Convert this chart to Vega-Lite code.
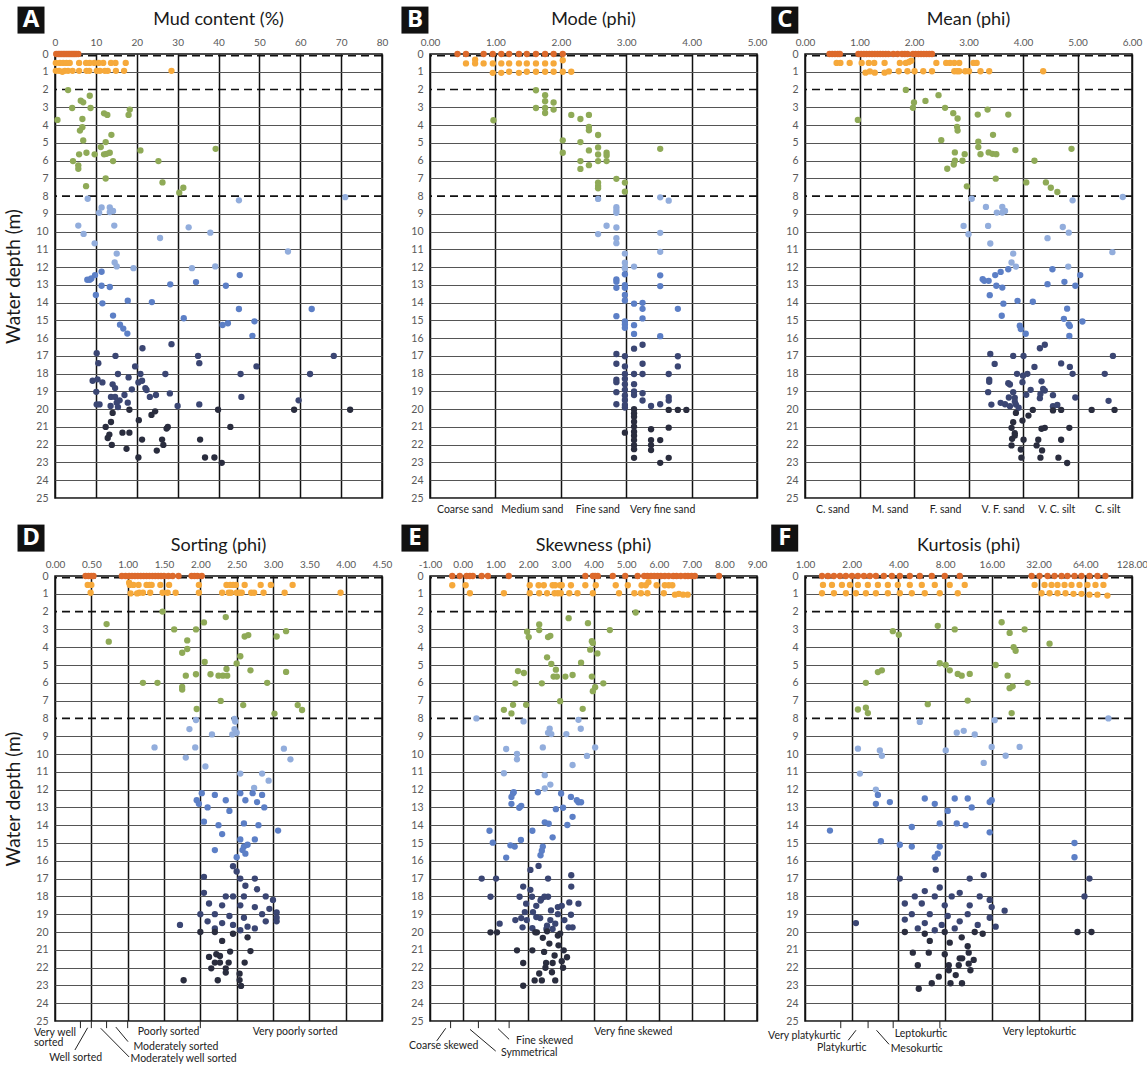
{
 "$schema": "https://vega.github.io/schema/vega-lite/v6.json",
 "background": "white",
 "padding": {"left": 4, "top": 5, "right": 2, "bottom": 2},
 "bounds": "flush",
 "columns": 3,
 "spacing": {"row": 78, "column": 48},
 "config": {
  "font": "Lato",
  "view": {"stroke": "#111", "strokeWidth": 1.5},
  "axis": {"labelFont": "Lato", "labelFontSize": 10.5, "labelColor": "#595959", "ticks": false, "domain": false, "gridOpacity": 1, "labelOverlap": false, "labelFlush": false, "tickCount": 40},
  "axisY": {"format": "d"},
  "axisX": {"labelFontSize": 10},
  "text": {"font": "Lato"}
 },
 "datasets": {
  "A": [
   {"v":0.3,"d":0},{"v":0.8,"d":0},{"v":1.2,"d":0},{"v":1.6,"d":0},{"v":2.0,"d":0},{"v":2.4,"d":0},{"v":2.8,"d":0},{"v":3.2,"d":0},{"v":3.6,"d":0},{"v":4.0,"d":0},{"v":4.4,"d":0},{"v":4.8,"d":0},{"v":5.2,"d":0},{"v":5.7,"d":0},
   {"v":0.2,"d":0.5},{"v":1.2,"d":0.5},{"v":2.0,"d":0.5},{"v":2.8,"d":0.5},{"v":3.6,"d":0.5},{"v":5.9,"d":0.5},{"v":7.6,"d":0.5},{"v":8.5,"d":0.5},{"v":9.6,"d":0.5},{"v":10.7,"d":0.5},{"v":11.8,"d":0.5},{"v":13.7,"d":0.5},{"v":14.8,"d":0.5},{"v":17.3,"d":0.5},
   {"v":0.2,"d":0.95},{"v":1.0,"d":0.95},{"v":1.8,"d":1.0},{"v":2.4,"d":0.95},{"v":3.2,"d":0.95},{"v":4.3,"d":0.95},{"v":5.9,"d":0.95},{"v":7.7,"d":0.95},{"v":8.4,"d":0.95},{"v":10.2,"d":0.95},{"v":11.0,"d":0.95},{"v":12.2,"d":0.95},{"v":12.9,"d":0.95},{"v":14.9,"d":0.95},{"v":16.9,"d":0.95},{"v":28.5,"d":0.95},
   {"v":3.2,"d":2.03},{"v":8.5,"d":2.35},{"v":6.3,"d":2.63},{"v":6.9,"d":2.72},{"v":4.2,"d":3.04},{"v":8.7,"d":3.04},{"v":18.3,"d":3.13},{"v":12.0,"d":3.34},{"v":12.8,"d":3.43},{"v":18.0,"d":3.43},{"v":0.6,"d":3.71},{"v":6.7,"d":3.66},{"v":6.7,"d":4.12},{"v":6.1,"d":4.31},{"v":13.8,"d":4.55},{"v":6.9,"d":4.87},{"v":12.4,"d":4.96},{"v":39.3,"d":5.34},{"v":11.2,"d":5.24},{"v":20.9,"d":5.43},{"v":5.9,"d":5.65},{"v":7.7,"d":5.56},{"v":9.7,"d":5.65},{"v":12.0,"d":5.65},{"v":12.6,"d":5.62},{"v":13.4,"d":5.56},{"v":4.4,"d":6.03},{"v":14.2,"d":6.03},{"v":25.3,"d":6.03},{"v":5.7,"d":6.27},{"v":5.7,"d":6.46},{"v":12.4,"d":7.01},{"v":26.3,"d":7.23},{"v":7.6,"d":7.44},{"v":30.4,"d":7.81},{"v":31.4,"d":7.53},
   {"v":8.0,"d":8.15},{"v":45.0,"d":8.24},{"v":71.0,"d":8.06},{"v":11.4,"d":8.64},{"v":10.8,"d":8.94},{"v":13.4,"d":8.64},{"v":13.4,"d":8.9},{"v":14.2,"d":8.84},{"v":5.7,"d":9.66},{"v":14.5,"d":9.66},{"v":7.0,"d":10.13},{"v":32.7,"d":9.76},{"v":38.0,"d":10.06},{"v":25.7,"d":10.36},{"v":9.7,"d":10.66},{"v":57.0,"d":11.12},{"v":15.1,"d":11.24},{"v":14.6,"d":11.74},{"v":15.1,"d":11.96},{"v":39.2,"d":11.96},{"v":19.2,"d":12.06},{"v":33.5,"d":12.06},
   {"v":11.4,"d":12.26},{"v":9.8,"d":12.45},{"v":45.2,"d":12.45},{"v":7.9,"d":12.71},{"v":8.5,"d":12.71},{"v":8.9,"d":12.64},{"v":34.5,"d":12.84},{"v":28.2,"d":12.97},{"v":11.4,"d":13.05},{"v":13.4,"d":13.12},{"v":41.8,"d":13.05},{"v":10.0,"d":13.57},{"v":11.6,"d":14.04},{"v":17.8,"d":13.89},{"v":23.7,"d":13.97},{"v":45.0,"d":14.36},{"v":62.8,"d":14.36},{"v":14.2,"d":14.73},{"v":31.5,"d":14.88},{"v":48.8,"d":15.05},{"v":41.0,"d":15.26},{"v":42.3,"d":15.16},{"v":15.9,"d":15.24},{"v":16.7,"d":15.46},{"v":17.7,"d":15.74},{"v":48.3,"d":15.87},
   {"v":28.5,"d":16.34},{"v":21.4,"d":16.57},{"v":10.2,"d":16.85},{"v":14.8,"d":17.0},{"v":35.0,"d":17.0},{"v":68.2,"d":17.0},{"v":10.6,"d":17.41},{"v":35.3,"d":17.41},{"v":19.6,"d":17.59},{"v":49.3,"d":17.59},{"v":15.4,"d":18.02},{"v":20.9,"d":18.02},{"v":27.0,"d":18.02},{"v":45.4,"d":18.02},{"v":62.4,"d":18.02},{"v":18.0,"d":18.21},{"v":9.2,"d":18.4},{"v":10.4,"d":18.32},{"v":11.6,"d":18.49},{"v":20.4,"d":18.49},{"v":21.3,"d":18.4},{"v":14.1,"d":18.6},{"v":14.7,"d":18.81},{"v":22.1,"d":18.81},{"v":22.4,"d":18.92},{"v":18.8,"d":18.88},{"v":10.1,"d":19.02},{"v":28.1,"d":19.11},{"v":17.0,"d":19.2},{"v":24.7,"d":19.2},{"v":13.7,"d":19.31},{"v":14.7,"d":19.31},{"v":23.2,"d":19.31},{"v":45.6,"d":19.31},{"v":15.8,"d":19.5},{"v":15.1,"d":19.63},{"v":17.8,"d":19.63},{"v":59.6,"d":19.5},{"v":10.2,"d":19.73},{"v":10.9,"d":19.73},{"v":13.6,"d":19.82},{"v":15.4,"d":19.88},{"v":30.0,"d":19.82},{"v":35.3,"d":19.73},
   {"v":18.2,"d":20.03},{"v":39.9,"d":20.03},{"v":58.5,"d":20.03},{"v":72.2,"d":20.03},{"v":14.1,"d":20.21},{"v":24.5,"d":20.12},{"v":23.6,"d":20.32},{"v":13.7,"d":20.72},{"v":20.5,"d":20.62},{"v":12.4,"d":21.0},{"v":27.3,"d":21.09},{"v":27.6,"d":21.0},{"v":42.9,"d":21.0},{"v":13.3,"d":21.43},{"v":12.9,"d":21.62},{"v":16.5,"d":21.32},{"v":18.2,"d":21.32},{"v":21.3,"d":21.71},{"v":26.2,"d":21.71},{"v":35.5,"d":21.71},{"v":13.9,"d":22.01},{"v":26.5,"d":22.01},{"v":17.5,"d":22.23},{"v":24.9,"d":22.33},{"v":20.4,"d":22.72},{"v":36.7,"d":22.72},{"v":39.0,"d":22.72},{"v":40.8,"d":23.02}
  ],
  "B": [
   {"v":0.42,"d":0},{"v":0.55,"d":0},{"v":0.82,"d":0},{"v":0.96,"d":0},{"v":1.09,"d":0},{"v":1.21,"d":0},{"v":1.36,"d":0},{"v":1.48,"d":0},{"v":1.62,"d":0},{"v":1.76,"d":0},{"v":1.89,"d":0},{"v":2.03,"d":0},{"v":0.69,"d":0.32},
   {"v":0.55,"d":0.53},{"v":0.69,"d":0.53},{"v":0.82,"d":0.53},{"v":0.96,"d":0.53},{"v":1.09,"d":0.53},{"v":1.21,"d":0.53},{"v":1.36,"d":0.53},{"v":1.48,"d":0.53},{"v":1.62,"d":0.53},{"v":1.76,"d":0.53},{"v":1.89,"d":0.53},{"v":2.03,"d":0.35},
   {"v":0.96,"d":1.06},{"v":1.09,"d":1.06},{"v":1.21,"d":1.0},{"v":1.36,"d":1.06},{"v":1.48,"d":1.0},{"v":1.62,"d":1.0},{"v":1.76,"d":1.0},{"v":1.89,"d":1.0},{"v":2.03,"d":1.0},{"v":2.16,"d":1.0},
   {"v":1.62,"d":2.04},{"v":1.76,"d":2.32},{"v":1.76,"d":2.66},{"v":1.89,"d":2.73},{"v":1.62,"d":3.04},{"v":1.76,"d":3.04},{"v":1.89,"d":3.13},{"v":1.76,"d":3.32},{"v":2.16,"d":3.43},{"v":2.3,"d":3.66},{"v":2.43,"d":3.43},{"v":0.97,"d":3.73},{"v":2.43,"d":4.11},{"v":2.43,"d":4.3},{"v":2.57,"d":4.56},{"v":2.03,"d":4.86},{"v":2.3,"d":4.96},{"v":2.57,"d":5.26},{"v":3.52,"d":5.34},{"v":2.43,"d":5.43},{"v":2.03,"d":5.56},{"v":2.57,"d":5.66},{"v":2.7,"d":5.56},{"v":2.7,"d":5.71},{"v":2.3,"d":6.03},{"v":2.57,"d":6.03},{"v":2.7,"d":6.03},{"v":2.43,"d":6.26},{"v":2.3,"d":6.47},{"v":2.85,"d":7.03},{"v":2.98,"d":7.24},{"v":2.57,"d":7.24},{"v":2.57,"d":7.43},{"v":2.57,"d":7.56},{"v":2.98,"d":7.75},
   {"v":2.57,"d":8.16},{"v":3.52,"d":8.07},{"v":3.65,"d":8.26},{"v":2.85,"d":8.63},{"v":2.85,"d":8.79},{"v":2.85,"d":8.94},{"v":2.7,"d":9.67},{"v":2.85,"d":9.77},{"v":2.57,"d":10.14},{"v":3.52,"d":10.07},{"v":2.85,"d":10.37},{"v":2.85,"d":10.65},{"v":3.52,"d":11.14},{"v":2.98,"d":11.24},{"v":2.98,"d":11.75},{"v":3.12,"d":11.97},{"v":2.98,"d":12.03},{"v":2.98,"d":12.08},
   {"v":2.98,"d":12.4},{"v":3.52,"d":12.46},{"v":2.85,"d":12.69},{"v":2.85,"d":12.82},{"v":2.85,"d":13.16},{"v":2.98,"d":13.01},{"v":2.98,"d":13.16},{"v":3.52,"d":13.07},{"v":2.98,"d":13.57},{"v":2.98,"d":13.88},{"v":3.12,"d":14.06},{"v":3.25,"d":14.01},{"v":3.25,"d":14.35},{"v":3.79,"d":14.35},{"v":2.85,"d":14.76},{"v":3.25,"d":14.89},{"v":2.98,"d":15.05},{"v":2.98,"d":15.23},{"v":2.98,"d":15.42},{"v":3.12,"d":15.27},{"v":3.12,"d":15.76},{"v":3.52,"d":15.89},
   {"v":3.25,"d":16.37},{"v":3.12,"d":16.59},{"v":2.85,"d":16.89},{"v":2.98,"d":17.02},{"v":3.79,"d":17.02},{"v":2.85,"d":17.44},{"v":3.25,"d":17.44},{"v":2.98,"d":17.59},{"v":3.79,"d":17.59},{"v":2.98,"d":18.02},{"v":3.12,"d":18.02},{"v":3.25,"d":18.02},{"v":3.65,"d":18.02},{"v":2.85,"d":18.34},{"v":2.85,"d":18.48},{"v":2.98,"d":18.29},{"v":2.98,"d":18.59},{"v":3.12,"d":18.59},{"v":2.85,"d":19.04},{"v":2.98,"d":18.91},{"v":2.98,"d":19.23},{"v":3.12,"d":19.0},{"v":3.12,"d":19.2},{"v":3.25,"d":19.1},{"v":3.65,"d":19.32},{"v":3.65,"d":19.51},{"v":2.98,"d":19.48},{"v":3.25,"d":19.51},{"v":2.85,"d":19.72},{"v":2.98,"d":19.76},{"v":3.38,"d":19.82},{"v":3.52,"d":19.72},{"v":2.98,"d":19.91},
   {"v":3.12,"d":20.0},{"v":3.65,"d":20.04},{"v":3.79,"d":20.04},{"v":3.92,"d":20.04},{"v":3.12,"d":20.23},{"v":3.12,"d":20.42},{"v":3.12,"d":20.7},{"v":3.12,"d":20.98},{"v":3.38,"d":21.13},{"v":3.65,"d":21.04},{"v":2.98,"d":21.32},{"v":3.12,"d":21.27},{"v":3.12,"d":21.49},{"v":3.12,"d":21.74},{"v":3.38,"d":21.74},{"v":3.52,"d":21.74},{"v":3.38,"d":22.02},{"v":3.12,"d":22.02},{"v":3.12,"d":22.25},{"v":3.38,"d":22.3},{"v":3.12,"d":22.74},{"v":3.65,"d":22.74},{"v":3.52,"d":23.02}
  ],
  "C": [
   {"v":0.45,"d":0},{"v":0.5,"d":0},{"v":0.55,"d":0},{"v":0.6,"d":0},{"v":0.64,"d":0},{"v":0.98,"d":0},{"v":1.03,"d":0},{"v":1.08,"d":0},{"v":1.13,"d":0},{"v":1.18,"d":0},{"v":1.23,"d":0},{"v":1.28,"d":0},{"v":1.33,"d":0},{"v":1.38,"d":0},{"v":1.43,"d":0},{"v":1.48,"d":0},{"v":1.53,"d":0},{"v":1.62,"d":0},{"v":1.7,"d":0},{"v":1.78,"d":0},{"v":1.83,"d":0},{"v":1.88,"d":0},{"v":1.98,"d":0},{"v":2.03,"d":0},{"v":2.08,"d":0},{"v":2.13,"d":0},{"v":2.18,"d":0},{"v":2.23,"d":0},{"v":2.28,"d":0},{"v":2.33,"d":0},
   {"v":0.58,"d":0.5},{"v":0.65,"d":0.5},{"v":0.82,"d":0.5},{"v":1.04,"d":0.5},{"v":1.17,"d":0.5},{"v":1.27,"d":0.5},{"v":1.46,"d":0.5},{"v":1.74,"d":0.5},{"v":1.85,"d":0.5},{"v":1.91,"d":0.45},{"v":1.95,"d":0.38},{"v":2.41,"d":0.5},{"v":2.59,"d":0.5},{"v":2.66,"d":0.5},{"v":2.74,"d":0.5},{"v":2.83,"d":0.5},{"v":3.09,"d":0.5},{"v":3.15,"d":0.5},
   {"v":1.11,"d":1.05},{"v":1.19,"d":0.98},{"v":1.28,"d":1.05},{"v":1.46,"d":1.05},{"v":1.54,"d":0.98},{"v":1.72,"d":0.97},{"v":1.88,"d":0.97},{"v":2.01,"d":0.97},{"v":2.17,"d":0.97},{"v":2.33,"d":0.97},{"v":2.74,"d":0.97},{"v":2.79,"d":0.97},{"v":2.83,"d":0.97},{"v":2.94,"d":0.97},{"v":3.01,"d":0.97},{"v":3.22,"d":0.97},{"v":3.38,"d":0.97},{"v":4.37,"d":0.97},
   {"v":1.85,"d":2.02},{"v":2.45,"d":2.32},{"v":2.0,"d":2.73},{"v":2.21,"d":2.64},{"v":1.98,"d":3.03},{"v":2.57,"d":3.03},{"v":3.35,"d":3.13},{"v":2.72,"d":3.33},{"v":3.17,"d":3.41},{"v":3.73,"d":3.41},{"v":2.8,"d":3.63},{"v":0.97,"d":3.71},{"v":2.79,"d":4.1},{"v":2.8,"d":4.31},{"v":3.45,"d":4.55},{"v":2.5,"d":4.85},{"v":3.18,"d":4.94},{"v":3.18,"d":5.24},{"v":4.89,"d":5.34},{"v":3.86,"d":5.41},{"v":2.75,"d":5.54},{"v":2.93,"d":5.64},{"v":3.22,"d":5.64},{"v":3.37,"d":5.54},{"v":3.44,"d":5.62},{"v":3.51,"d":5.64},{"v":4.21,"d":6.01},{"v":2.75,"d":6.01},{"v":2.89,"d":6.01},{"v":2.73,"d":6.22},{"v":2.61,"d":6.46},{"v":3.5,"d":7.02},{"v":4.06,"d":7.23},{"v":4.42,"d":7.23},{"v":4.51,"d":7.53},{"v":4.63,"d":7.77},{"v":2.97,"d":7.45},
   {"v":3.06,"d":8.15},{"v":5.83,"d":8.05},{"v":4.91,"d":8.24},{"v":3.32,"d":8.61},{"v":3.62,"d":8.61},{"v":3.52,"d":8.93},{"v":3.62,"d":8.93},{"v":3.67,"d":8.84},{"v":2.91,"d":9.68},{"v":3.36,"d":9.68},{"v":4.73,"d":9.74},{"v":4.84,"d":10.06},{"v":3.0,"d":10.15},{"v":4.45,"d":10.37},{"v":3.4,"d":10.67},{"v":5.64,"d":11.16},{"v":3.82,"d":11.24},{"v":3.79,"d":11.74},{"v":3.87,"d":11.97},{"v":4.83,"d":11.97},
   {"v":3.73,"d":12.12},{"v":4.54,"d":12.12},{"v":3.59,"d":12.27},{"v":3.49,"d":12.45},{"v":5.05,"d":12.45},{"v":3.26,"d":12.68},{"v":3.29,"d":12.77},{"v":3.37,"d":12.77},{"v":4.76,"d":12.83},{"v":4.45,"d":12.96},{"v":3.51,"d":13.05},{"v":3.62,"d":13.15},{"v":4.96,"d":13.05},{"v":3.39,"d":13.58},{"v":3.9,"d":13.9},{"v":4.18,"d":13.95},{"v":3.64,"d":14.06},{"v":4.81,"d":14.34},{"v":3.61,"d":14.74},{"v":4.75,"d":14.91},{"v":5.09,"d":15.06},{"v":4.84,"d":15.22},{"v":4.86,"d":15.32},{"v":3.94,"d":15.3},{"v":3.96,"d":15.49},{"v":4.05,"d":15.75},{"v":4.85,"d":15.88},
   {"v":4.4,"d":16.37},{"v":4.31,"d":16.57},{"v":3.4,"d":16.89},{"v":3.82,"d":17.0},{"v":4.01,"d":17.0},{"v":5.65,"d":17.0},{"v":3.48,"d":17.45},{"v":4.7,"d":17.42},{"v":4.21,"d":17.62},{"v":4.86,"d":17.62},{"v":3.89,"d":18.01},{"v":4.0,"d":18.11},{"v":4.08,"d":18.01},{"v":4.91,"d":18.01},{"v":5.5,"d":18.01},{"v":3.38,"d":18.33},{"v":3.38,"d":18.46},{"v":3.73,"d":18.54},{"v":3.76,"d":18.61},{"v":3.99,"d":18.48},{"v":4.34,"d":18.43},{"v":4.14,"d":18.91},{"v":4.37,"d":18.86},{"v":4.4,"d":18.95},{"v":3.36,"d":19.04},{"v":3.82,"d":19.04},{"v":4.32,"d":19.14},{"v":4.55,"d":19.21},{"v":3.74,"d":19.34},{"v":3.85,"d":19.36},{"v":4.06,"d":19.19},{"v":4.31,"d":19.38},{"v":4.96,"d":19.34},{"v":5.57,"d":19.53},{"v":3.85,"d":19.57},{"v":3.42,"d":19.74},{"v":3.59,"d":19.64},{"v":3.67,"d":19.72},{"v":3.76,"d":19.83},{"v":3.87,"d":19.74},{"v":3.92,"d":19.92},{"v":4.55,"d":19.83},{"v":4.63,"d":19.76},
   {"v":4.18,"d":20.04},{"v":4.55,"d":20.07},{"v":4.7,"d":20.04},{"v":5.26,"d":20.04},{"v":5.68,"d":20.04},{"v":3.87,"d":20.21},{"v":4.1,"d":20.36},{"v":3.82,"d":20.73},{"v":3.99,"d":20.64},{"v":3.79,"d":21.05},{"v":4.34,"d":21.1},{"v":4.4,"d":21.05},{"v":4.85,"d":21.05},{"v":3.85,"d":21.35},{"v":3.85,"d":21.48},{"v":3.8,"d":21.67},{"v":4.01,"d":21.72},{"v":4.28,"d":21.72},{"v":4.7,"d":21.72},{"v":3.79,"d":22.04},{"v":4.25,"d":22.04},{"v":3.96,"d":22.27},{"v":4.35,"d":22.32},{"v":3.97,"d":22.73},{"v":4.32,"d":22.73},{"v":4.65,"d":22.73},{"v":4.81,"d":23.03}
  ],
  "D": [
   {"v":0.42,"d":0},{"v":0.46,"d":0},{"v":0.5,"d":0},{"v":0.53,"d":0},{"v":0.92,"d":0},{"v":0.97,"d":0},{"v":1.02,"d":0},{"v":1.06,"d":0},{"v":1.1,"d":0},{"v":1.14,"d":0},{"v":1.18,"d":0},{"v":1.22,"d":0},{"v":1.26,"d":0},{"v":1.3,"d":0},{"v":1.34,"d":0},{"v":1.38,"d":0},{"v":1.42,"d":0},{"v":1.46,"d":0},{"v":1.5,"d":0},{"v":1.56,"d":0},{"v":1.62,"d":0},{"v":1.7,"d":0},{"v":1.88,"d":0},{"v":1.92,"d":0},{"v":1.96,"d":0},{"v":2.02,"d":0},
   {"v":0.45,"d":0.5},{"v":0.5,"d":0.5},{"v":1.02,"d":0.38},{"v":1.03,"d":0.5},{"v":1.08,"d":0.5},{"v":1.15,"d":0.5},{"v":1.26,"d":0.5},{"v":1.3,"d":0.5},{"v":1.33,"d":0.5},{"v":1.45,"d":0.5},{"v":1.57,"d":0.5},{"v":1.98,"d":0.5},{"v":2.36,"d":0.5},{"v":2.41,"d":0.5},{"v":2.45,"d":0.5},{"v":2.49,"d":0.5},{"v":2.61,"d":0.5},{"v":2.83,"d":0.5},{"v":2.97,"d":0.5},{"v":3.27,"d":0.5},
   {"v":0.49,"d":0.94},{"v":1.04,"d":0.98},{"v":1.13,"d":0.98},{"v":1.16,"d":0.94},{"v":1.21,"d":0.94},{"v":1.31,"d":0.94},{"v":1.48,"d":0.94},{"v":1.55,"d":0.94},{"v":1.66,"d":0.94},{"v":1.98,"d":0.94},{"v":2.3,"d":0.94},{"v":2.39,"d":0.94},{"v":2.42,"d":0.94},{"v":2.5,"d":0.94},{"v":2.54,"d":0.94},{"v":2.57,"d":0.94},{"v":2.7,"d":0.94},{"v":2.74,"d":0.94},{"v":2.87,"d":0.94},{"v":3.16,"d":0.94},{"v":3.93,"d":0.94},
   {"v":1.48,"d":2.0},{"v":2.35,"d":2.31},{"v":0.71,"d":2.7},{"v":2.05,"d":2.61},{"v":1.64,"d":3.0},{"v":1.94,"d":3.0},{"v":3.18,"d":3.1},{"v":3.05,"d":3.4},{"v":2.61,"d":3.4},{"v":2.66,"d":3.32},{"v":0.74,"d":3.69},{"v":1.82,"d":3.62},{"v":1.82,"d":4.1},{"v":1.75,"d":4.31},{"v":2.55,"d":4.51},{"v":2.06,"d":4.83},{"v":2.5,"d":4.91},{"v":2.36,"d":5.22},{"v":2.69,"d":5.3},{"v":3.18,"d":5.39},{"v":1.8,"d":5.6},{"v":1.94,"d":5.52},{"v":2.14,"d":5.52},{"v":2.25,"d":5.6},{"v":2.31,"d":5.6},{"v":2.37,"d":5.6},{"v":1.21,"d":6.0},{"v":1.41,"d":6.0},{"v":2.92,"d":6.0},{"v":1.75,"d":6.23},{"v":1.75,"d":6.38},{"v":2.28,"d":7.02},{"v":2.59,"d":7.25},{"v":1.95,"d":7.47},{"v":3.34,"d":7.25},{"v":3.4,"d":7.53},{"v":3.02,"d":7.73},
   {"v":1.94,"d":8.09},{"v":2.47,"d":8.03},{"v":2.48,"d":8.18},{"v":1.85,"d":8.6},{"v":2.47,"d":8.6},{"v":2.5,"d":8.8},{"v":2.16,"d":8.9},{"v":2.44,"d":8.9},{"v":1.37,"d":9.63},{"v":1.93,"d":9.63},{"v":3.15,"d":9.7},{"v":1.8,"d":10.2},{"v":3.24,"d":10.3},{"v":2.07,"d":10.7},{"v":2.85,"d":11.1},{"v":2.55,"d":11.1},{"v":2.94,"d":11.5},{"v":2.74,"d":11.9},
   {"v":1.95,"d":12.6},{"v":1.98,"d":12.8},{"v":2.02,"d":12.2},{"v":2.2,"d":12.3},{"v":2.35,"d":12.6},{"v":2.55,"d":12.2},{"v":2.72,"d":12.2},{"v":2.85,"d":12.3},{"v":2.62,"d":12.6},{"v":2.78,"d":12.7},{"v":2.88,"d":13.0},{"v":2.1,"d":13.0},{"v":2.4,"d":13.2},{"v":2.05,"d":13.8},{"v":2.25,"d":14.0},{"v":2.6,"d":13.9},{"v":2.8,"d":14.0},{"v":3.07,"d":14.3},{"v":2.3,"d":14.5},{"v":2.55,"d":14.8},{"v":2.75,"d":14.8},{"v":2.6,"d":15.2},{"v":2.58,"d":15.4},{"v":2.62,"d":15.6},{"v":2.65,"d":15.1},{"v":2.5,"d":15.8},{"v":2.2,"d":15.4},
   {"v":2.45,"d":16.3},{"v":2.5,"d":16.6},{"v":2.05,"d":16.9},{"v":2.55,"d":17.0},{"v":2.75,"d":17.0},{"v":2.62,"d":17.4},{"v":2.78,"d":17.6},{"v":2.05,"d":17.8},{"v":2.35,"d":18.0},{"v":2.45,"d":18.0},{"v":2.6,"d":18.0},{"v":2.9,"d":18.0},{"v":3.0,"d":18.2},{"v":2.12,"d":18.4},{"v":2.3,"d":18.5},{"v":2.55,"d":18.5},{"v":2.75,"d":18.6},{"v":2.95,"d":18.7},{"v":3.05,"d":18.9},{"v":2.0,"d":19.0},{"v":2.2,"d":19.0},{"v":2.4,"d":19.1},{"v":2.6,"d":19.2},{"v":2.85,"d":19.0},{"v":3.05,"d":19.2},{"v":1.72,"d":19.6},{"v":2.1,"d":19.4},{"v":2.3,"d":19.5},{"v":2.45,"d":19.6},{"v":2.65,"d":19.7},{"v":2.9,"d":19.4},{"v":3.05,"d":19.4},{"v":2.2,"d":19.8},{"v":2.55,"d":19.9},{"v":2.75,"d":19.8},
   {"v":2.0,"d":20.0},{"v":2.2,"d":20.0},{"v":2.45,"d":20.1},{"v":2.65,"d":20.3},{"v":2.3,"d":20.5},{"v":2.69,"d":21.07},{"v":2.41,"d":21.1},{"v":2.22,"d":21.25},{"v":2.27,"d":21.35},{"v":2.12,"d":21.4},{"v":2.2,"d":21.72},{"v":2.27,"d":21.72},{"v":2.39,"d":21.72},{"v":2.61,"d":21.72},{"v":2.15,"d":22.04},{"v":2.35,"d":22.04},{"v":2.35,"d":22.28},{"v":2.54,"d":22.34},{"v":2.54,"d":22.7},{"v":1.77,"d":22.71},{"v":2.24,"d":22.71},{"v":2.56,"d":23.03}
  ],
  "E": [
   {"v":-0.32,"d":0},{"v":-0.09,"d":0},{"v":0.12,"d":0},{"v":0.22,"d":0},{"v":0.31,"d":0},{"v":0.58,"d":0},{"v":0.77,"d":0},{"v":1.41,"d":0},{"v":3.75,"d":0},{"v":3.98,"d":0},{"v":4.05,"d":0},{"v":4.13,"d":0},{"v":4.59,"d":0},{"v":4.97,"d":0},{"v":5.35,"d":0},{"v":5.55,"d":0},{"v":5.65,"d":0},{"v":5.76,"d":0},{"v":5.86,"d":0},{"v":5.96,"d":0},{"v":6.06,"d":0},{"v":6.18,"d":0},{"v":6.3,"d":0},{"v":6.44,"d":0},{"v":6.54,"d":0},{"v":6.67,"d":0},{"v":6.8,"d":0},{"v":6.89,"d":0},{"v":7.0,"d":0},{"v":7.1,"d":0},{"v":7.84,"d":0},
   {"v":-0.32,"d":0.52},{"v":0.09,"d":0.52},{"v":2.05,"d":0.52},{"v":2.32,"d":0.52},{"v":2.48,"d":0.52},{"v":2.75,"d":0.52},{"v":2.83,"d":0.52},{"v":2.98,"d":0.52},{"v":3.03,"d":0.52},{"v":3.31,"d":0.52},{"v":3.75,"d":0.52},{"v":4.07,"d":0.52},{"v":4.68,"d":0.52},{"v":5.05,"d":0.52},{"v":5.47,"d":0.52},{"v":5.6,"d":0.52},{"v":5.68,"d":0.35},{"v":5.93,"d":0.52},{"v":6.18,"d":0.52},{"v":6.3,"d":0.52},{"v":6.41,"d":0.52},
   {"v":0.22,"d":0.97},{"v":1.26,"d":0.97},{"v":2.05,"d":0.97},{"v":2.34,"d":0.97},{"v":2.58,"d":0.97},{"v":2.81,"d":0.97},{"v":2.91,"d":0.97},{"v":3.0,"d":0.97},{"v":3.26,"d":0.97},{"v":3.51,"d":0.97},{"v":3.98,"d":0.97},{"v":4.78,"d":0.97},{"v":5.25,"d":0.97},{"v":5.45,"d":0.97},{"v":5.65,"d":0.97},{"v":6.15,"d":0.97},{"v":6.49,"d":1.05},{"v":6.61,"d":1.0},{"v":6.74,"d":1.05},{"v":6.88,"d":1.05},
   {"v":5.29,"d":2.05},{"v":3.24,"d":2.37},{"v":3.83,"d":2.65},{"v":2.34,"d":2.72},{"v":2.34,"d":3.04},{"v":1.97,"d":3.13},{"v":2.02,"d":3.43},{"v":4.5,"d":3.04},{"v":2.61,"d":3.43},{"v":2.68,"d":3.36},{"v":3.95,"d":3.66},{"v":3.98,"d":3.77},{"v":3.9,"d":4.14},{"v":4.12,"d":4.35},{"v":2.58,"d":4.57},{"v":3.62,"d":4.87},{"v":2.71,"d":4.94},{"v":2.85,"d":5.26},{"v":1.69,"d":5.34},{"v":1.87,"d":5.45},{"v":2.78,"d":5.65},{"v":2.88,"d":5.65},{"v":3.14,"d":5.65},{"v":3.36,"d":5.56},{"v":3.95,"d":5.65},{"v":4.3,"d":6.03},{"v":1.61,"d":6.03},{"v":2.42,"d":6.03},{"v":4.05,"d":6.25},{"v":3.98,"d":6.47},{"v":2.98,"d":7.03},{"v":1.54,"d":7.24},{"v":1.94,"d":7.24},{"v":3.67,"d":7.46},{"v":1.26,"d":7.52},{"v":1.49,"d":7.72},
   {"v":0.42,"d":8.0},{"v":3.54,"d":8.08},{"v":1.86,"d":8.17},{"v":3.61,"d":8.58},{"v":2.66,"d":8.58},{"v":2.61,"d":8.81},{"v":2.71,"d":8.88},{"v":3.17,"d":8.88},{"v":2.45,"d":9.63},{"v":4.05,"d":9.63},{"v":1.33,"d":9.72},{"v":1.66,"d":10.0},{"v":1.66,"d":10.3},{"v":3.8,"d":10.11},{"v":3.36,"d":10.62},{"v":1.26,"d":11.08},{"v":2.51,"d":11.19},{"v":2.68,"d":11.72},{"v":2.51,"d":11.94},
   {"v":1.56,"d":12.15},{"v":1.54,"d":12.2},{"v":2.3,"d":12.15},{"v":3.01,"d":12.22},{"v":3.31,"d":12.41},{"v":1.49,"d":12.41},{"v":1.49,"d":12.8},{"v":1.79,"d":12.91},{"v":1.73,"d":13.02},{"v":3.49,"d":12.6},{"v":3.54,"d":12.71},{"v":3.62,"d":12.71},{"v":2.85,"d":13.1},{"v":3.07,"d":13.02},{"v":3.36,"d":13.53},{"v":2.51,"d":13.84},{"v":2.63,"d":13.92},{"v":3.2,"d":13.99},{"v":2.13,"d":14.31},{"v":0.82,"d":14.31},{"v":2.75,"d":14.68},{"v":1.78,"d":14.83},{"v":0.92,"d":14.98},{"v":1.46,"d":15.13},{"v":1.59,"d":15.2},{"v":2.45,"d":15.2},{"v":2.42,"d":15.43},{"v":2.38,"d":15.69},{"v":1.33,"d":15.82},
   {"v":2.32,"d":16.29},{"v":2.07,"d":16.51},{"v":0.58,"d":17.0},{"v":1.02,"d":17.0},{"v":2.61,"d":17.0},{"v":3.32,"d":16.81},{"v":1.85,"d":17.45},{"v":3.32,"d":17.45},{"v":2.07,"d":17.63},{"v":0.85,"d":18.02},{"v":1.74,"d":18.02},{"v":2.12,"d":18.02},{"v":2.5,"d":18.02},{"v":2.61,"d":18.02},{"v":2.4,"d":18.15},{"v":2.38,"d":18.23},{"v":3.26,"d":18.34},{"v":3.54,"d":18.41},{"v":1.94,"d":18.41},{"v":2.25,"d":18.53},{"v":2.91,"d":18.6},{"v":3.03,"d":18.53},{"v":1.9,"d":18.88},{"v":2.15,"d":18.88},{"v":2.7,"d":18.79},{"v":3.31,"d":19.03},{"v":2.25,"d":19.16},{"v":2.37,"d":19.22},{"v":1.79,"d":19.22},{"v":2.91,"d":19.0},{"v":1.61,"d":19.33},{"v":1.96,"d":19.33},{"v":2.68,"d":19.33},{"v":3.11,"d":19.33},{"v":1.13,"d":19.53},{"v":2.83,"d":19.53},{"v":2.58,"d":19.64},{"v":1.83,"d":19.74},{"v":2.13,"d":19.79},{"v":2.56,"d":19.83},{"v":2.75,"d":19.83},{"v":3.24,"d":19.74},{"v":3.36,"d":19.74},
   {"v":0.85,"d":20.02},{"v":1.05,"d":20.02},{"v":2.22,"d":20.02},{"v":2.58,"d":19.96},{"v":2.27,"d":20.02},{"v":2.91,"d":20.2},{"v":2.98,"d":20.09},{"v":2.45,"d":20.33},{"v":2.65,"d":20.65},{"v":2.93,"d":20.75},{"v":1.66,"d":21.03},{"v":2.13,"d":21.03},{"v":2.49,"d":21.12},{"v":3.09,"d":21.03},{"v":2.81,"d":21.32},{"v":3.19,"d":21.42},{"v":1.85,"d":21.74},{"v":2.55,"d":21.74},{"v":2.75,"d":21.74},{"v":3.03,"d":21.64},{"v":2.53,"d":22.01},{"v":3.07,"d":22.01},{"v":2.34,"d":22.33},{"v":2.73,"d":22.26},{"v":2.2,"d":22.72},{"v":2.42,"d":22.72},{"v":2.83,"d":22.72},{"v":1.85,"d":23.02}
  ],
  "F": [
   {"v":1.287,"d":0},{"v":1.406,"d":0},{"v":1.536,"d":0},{"v":1.679,"d":0},{"v":1.835,"d":0},{"v":2.007,"d":0},{"v":2.193,"d":0},{"v":2.396,"d":0},{"v":2.619,"d":0},{"v":2.863,"d":0},{"v":3.223,"d":0},{"v":3.628,"d":0},{"v":4.084,"d":0},{"v":4.736,"d":0},{"v":5.492,"d":0},{"v":6.561,"d":0},{"v":7.953,"d":0},{"v":9.932,"d":0},{"v":28.85,"d":0},{"v":32.47,"d":0},{"v":36.56,"d":0},{"v":40.56,"d":0},{"v":44.98,"d":0},{"v":49.17,"d":0},{"v":54.53,"d":0},{"v":60.49,"d":0},{"v":68.09,"d":0},{"v":76.66,"d":0},{"v":86.3,"d":0},
   {"v":1.306,"d":0.5},{"v":1.492,"d":0.5},{"v":1.73,"d":0.5},{"v":1.948,"d":0.5},{"v":2.193,"d":0.5},{"v":2.542,"d":0.5},{"v":2.949,"d":0.5},{"v":3.419,"d":0.5},{"v":3.965,"d":0.5},{"v":4.736,"d":0.5},{"v":5.657,"d":0.5},{"v":6.859,"d":0.5},{"v":8.565,"d":0.5},{"v":10.7,"d":0.5},{"v":30.16,"d":0.5},{"v":34.97,"d":0.5},{"v":38.79,"d":0.5},{"v":42.4,"d":0.5},{"v":47.03,"d":0.5},{"v":52.16,"d":0.5},{"v":58.72,"d":0.5},{"v":66.11,"d":0.5},{"v":74.42,"d":0.5},{"v":83.78,"d":0.5},
   {"v":1.287,"d":0.97},{"v":1.536,"d":0.97},{"v":1.835,"d":0.97},{"v":2.129,"d":0.97},{"v":2.468,"d":0.97},{"v":2.863,"d":0.97},{"v":3.419,"d":0.97},{"v":4.084,"d":0.97},{"v":4.879,"d":0.97},{"v":5.914,"d":0.97},{"v":7.385,"d":0.97},{"v":9.643,"d":0.97},{"v":33.45,"d":0.97},{"v":37.66,"d":0.97},{"v":42.4,"d":0.97},{"v":47.73,"d":0.97},{"v":53.73,"d":1.0},{"v":60.49,"d":1.0},{"v":68.09,"d":1.05},{"v":76.66,"d":1.05},{"v":88.9,"d":1.1},
   {"v":3.682,"d":3.1},{"v":4.025,"d":3.3},{"v":7.171,"d":2.8},{"v":9.224,"d":3.0},{"v":18.5,"d":2.6},{"v":20.83,"d":3.2},{"v":26.01,"d":3.0},{"v":22.1,"d":4.0},{"v":22.77,"d":4.2},{"v":37.66,"d":3.8},{"v":7.385,"d":4.9},{"v":8.072,"d":5.0},{"v":8.565,"d":5.3},{"v":9.643,"d":5.5},{"v":10.23,"d":5.6},{"v":11.52,"d":5.5},{"v":16.93,"d":5.0},{"v":20.22,"d":5.6},{"v":20.83,"d":6.3},{"v":21.78,"d":6.2},{"v":27.19,"d":6.0},{"v":3.128,"d":5.3},{"v":2.949,"d":5.4},{"v":2.468,"d":6.0},{"v":11.18,"d":7.0},{"v":6.183,"d":7.2},{"v":2.193,"d":7.5},{"v":2.468,"d":7.4},{"v":2.542,"d":7.7},{"v":21.46,"d":7.7},
   {"v":90.2,"d":8.0},{"v":5.492,"d":8.2},{"v":16.68,"d":8.1},{"v":9.501,"d":8.8},{"v":10.54,"d":8.7},{"v":12.41,"d":8.9},{"v":2.193,"d":9.7},{"v":3.037,"d":9.8},{"v":2.258,"d":11.1},{"v":3.128,"d":10.1},{"v":15.96,"d":9.6},{"v":24.15,"d":9.6},{"v":19.63,"d":10.1},{"v":8.072,"d":9.8},{"v":14.18,"d":10.5},
   {"v":2.863,"d":12.0},{"v":2.949,"d":12.3},{"v":2.863,"d":12.8},{"v":3.522,"d":12.7},{"v":5.914,"d":12.5},{"v":6.859,"d":12.8},{"v":9.224,"d":12.5},{"v":11.18,"d":12.5},{"v":15.49,"d":12.7},{"v":15.96,"d":12.6},{"v":11.87,"d":13.0},{"v":8.315,"d":13.2},{"v":9.501,"d":13.9},{"v":10.86,"d":14.0},{"v":7.385,"d":13.9},{"v":4.879,"d":14.1},{"v":1.448,"d":14.3},{"v":3.082,"d":14.9},{"v":4.084,"d":15.1},{"v":4.879,"d":15.2},{"v":7.385,"d":15.2},{"v":7.171,"d":15.6},{"v":6.859,"d":15.8},{"v":54.53,"d":15.0},{"v":54.53,"d":15.8},{"v":15.49,"d":14.4},
   {"v":6.961,"d":16.5},{"v":4.084,"d":17.0},{"v":11.52,"d":17.0},{"v":14.18,"d":16.8},{"v":68.09,"d":17.0},{"v":7.385,"d":17.5},{"v":5.914,"d":17.7},{"v":9.932,"d":17.8},{"v":5.1,"d":18.0},{"v":6.859,"d":18.0},{"v":8.823,"d":18.0},{"v":13.36,"d":18.0},{"v":15.49,"d":18.2},{"v":63.24,"d":18.0},{"v":4.398,"d":18.4},{"v":5.657,"d":18.4},{"v":7.953,"d":18.5},{"v":11.52,"d":18.5},{"v":15.96,"d":18.6},{"v":4.879,"d":19.0},{"v":6.369,"d":19.0},{"v":8.315,"d":19.1},{"v":11.18,"d":19.0},{"v":15.49,"d":19.2},{"v":19.34,"d":18.8},{"v":2.129,"d":19.5},{"v":4.398,"d":19.3},{"v":5.914,"d":19.5},{"v":7.607,"d":19.6},{"v":9.932,"d":19.4},{"v":12.97,"d":19.6},{"v":16.93,"d":19.7},{"v":5.332,"d":19.8},{"v":6.859,"d":19.9},{"v":9.224,"d":19.8},
   {"v":57.0,"d":20.0},{"v":70.14,"d":20.0},{"v":4.398,"d":20.0},{"v":5.914,"d":20.1},{"v":7.953,"d":20.0},{"v":10.23,"d":20.3},{"v":12.41,"d":20.0},{"v":13.97,"d":20.1},{"v":6.369,"d":20.5},{"v":8.565,"d":20.6},{"v":11.18,"d":20.8},{"v":4.951,"d":21.16},{"v":6.275,"d":21.16},{"v":7.953,"d":21.25},{"v":11.35,"d":21.16},{"v":9.932,"d":21.48},{"v":10.3,"d":21.48},{"v":12.22,"d":21.57},{"v":5.332,"d":21.87},{"v":8.439,"d":21.87},{"v":9.79,"d":21.87},{"v":11.35,"d":21.78},{"v":8.439,"d":22.15},{"v":11.64,"d":22.15},{"v":7.28,"d":22.51},{"v":9.362,"d":22.42},{"v":6.56,"d":22.88},{"v":8.66,"d":22.88},{"v":10.27,"d":22.88},{"v":5.41,"d":23.19}
  ]
 },
 "concat": [
   {"width": 327, "height": 444,
    "layer": [
     {"data": {"values": [{"d":0.1},{"d":2},{"d":8}]}, "mark": {"type":"rule","strokeDash":[8,5],"strokeWidth":1.6,"color":"#111"},
      "encoding": {"y": {"field":"d","type":"quantitative","scale":{"domain":[0,25],"reverse":true,"nice":false,"zero":false},
        "axis":{"values":[0,1,2,3,4,5,6,7,8,9,10,11,12,13,14,15,16,17,18,19,20,21,22,23,24,25],"tickCount":40,"format":"d","title":"Water depth (m)","titleFontSize":19,"titleFontWeight":"normal","titleColor":"#1a1a1a","titleFont":"Lato","titlePadding":12,"grid":true,"gridColor":{"condition":{"test":"datum.value==2||datum.value==8||datum.value==0","value":"rgba(0,0,0,0)"},"value":"#555"},"gridWidth":1,"labelPadding":7}}}},
     {"data": {"name":"A"}, "mark": {"type":"circle","size":40,"opacity":1},
      "encoding": {"x": {"field":"v","type":"quantitative","scale":{"domain":[0,80],"nice":false,"zero":false},"axis":{"orient":"top","values":[0,10,20,30,40,50,60,70,80],"tickCount":40,"format":"d","title":null,"grid":true,"gridColor":"#111","gridWidth":1.5,"labelPadding":7}},
        "y": {"field":"d","type":"quantitative","axis":{"values":[0,1,2,3,4,5,6,7,8,9,10,11,12,13,14,15,16,17,18,19,20,21,22,23,24,25],"tickCount":40,"format":"d","title":"Water depth (m)","titleFontSize":19,"titleFontWeight":"normal","titleColor":"#1a1a1a","titleFont":"Lato","titlePadding":12,"grid":true,"gridColor":{"condition":{"test":"datum.value==2||datum.value==8||datum.value==0","value":"rgba(0,0,0,0)"},"value":"#555"},"gridWidth":1,"labelPadding":7}},
        "color": {"field":"d","type":"quantitative","scale":{"type":"threshold","domain":[0.3,1.5,7.9,12.1,16.2,19.95],"range":["#DD6A2C","#F6A93B","#8FAA57","#92ADDC","#5C7FC6","#3B4673","#2A2D3E"]},"legend":null}}},
     {"data": {"values": [{}]}, "mark": {"type":"square","size":729,"color":"#111","opacity":1,"filled":true}, "encoding": {"x":{"datum":-5.87,"type":"quantitative"},"y":{"datum":-1.91,"type":"quantitative"}}},
     {"data": {"values": [{}]}, "mark": {"type":"text","text":"A","color":"white","fontSize":24,"fontWeight":"bold","font":"Open Sans"}, "encoding": {"x":{"datum":-5.87,"type":"quantitative"},"y":{"datum":-1.91,"type":"quantitative"}}},
     {"data": {"values": [{}]}, "mark": {"type":"text","text":"Mud content (%)","color":"#1a1a1a","fontSize":18,"baseline":"middle"}, "encoding": {"x":{"datum":40,"type":"quantitative"},"y":{"datum":-1.91,"type":"quantitative"}}}
    ]},
   {"width": 327, "height": 444,
    "layer": [
     {"data": {"values": [{"d":0.1},{"d":2},{"d":8}]}, "mark": {"type":"rule","strokeDash":[8,5],"strokeWidth":1.6,"color":"#111"},
      "encoding": {"y": {"field":"d","type":"quantitative","scale":{"domain":[0,25],"reverse":true,"nice":false,"zero":false},
        "axis":{"values":[0,1,2,3,4,5,6,7,8,9,10,11,12,13,14,15,16,17,18,19,20,21,22,23,24,25],"tickCount":40,"format":"d","title":null,"grid":true,"gridColor":{"condition":{"test":"datum.value==2||datum.value==8||datum.value==0","value":"rgba(0,0,0,0)"},"value":"#555"},"gridWidth":1,"labelPadding":7}}}},
     {"data": {"name":"B"}, "mark": {"type":"circle","size":40,"opacity":1},
      "encoding": {"x": {"field":"v","type":"quantitative","scale":{"domain":[0,5],"nice":false,"zero":false},"axis":{"orient":"top","values":[0,1,2,3,4,5],"tickCount":40,"format":".2f","title":null,"grid":true,"gridColor":"#111","gridWidth":1.5,"labelPadding":7}},
        "y": {"field":"d","type":"quantitative","axis":{"values":[0,1,2,3,4,5,6,7,8,9,10,11,12,13,14,15,16,17,18,19,20,21,22,23,24,25],"tickCount":40,"format":"d","title":null,"grid":true,"gridColor":{"condition":{"test":"datum.value==2||datum.value==8||datum.value==0","value":"rgba(0,0,0,0)"},"value":"#555"},"gridWidth":1,"labelPadding":7}},
        "color": {"field":"d","type":"quantitative","scale":{"type":"threshold","domain":[0.3,1.5,7.9,12.1,16.2,19.95],"range":["#DD6A2C","#F6A93B","#8FAA57","#92ADDC","#5C7FC6","#3B4673","#2A2D3E"]},"legend":null}}},
     {"data": {"values": [{"t":"Coarse sand","x":0.107,"y":25.67},{"t":"Medium sand","x":1.09,"y":25.67},{"t":"Fine sand","x":2.23,"y":25.67},{"t":"Very fine sand","x":3.06,"y":25.67}]},
      "mark": {"type":"text","align":"left","baseline":"middle","fontSize":10.5,"color":"#222"},
      "encoding": {"x":{"field":"x","type":"quantitative"},"y":{"field":"y","type":"quantitative"},"text":{"field":"t"}}},
     {"data": {"values": [{}]}, "mark": {"type":"square","size":729,"color":"#111","opacity":1,"filled":true}, "encoding": {"x":{"datum":-0.23,"type":"quantitative"},"y":{"datum":-1.91,"type":"quantitative"}}},
     {"data": {"values": [{}]}, "mark": {"type":"text","text":"B","color":"white","fontSize":24,"fontWeight":"bold","font":"Open Sans"}, "encoding": {"x":{"datum":-0.23,"type":"quantitative"},"y":{"datum":-1.91,"type":"quantitative"}}},
     {"data": {"values": [{}]}, "mark": {"type":"text","text":"Mode (phi)","color":"#1a1a1a","fontSize":18,"baseline":"middle"}, "encoding": {"x":{"datum":2.5,"type":"quantitative"},"y":{"datum":-1.91,"type":"quantitative"}}}
    ]},
   {"width": 327, "height": 444,
    "layer": [
     {"data": {"values": [{"d":0.1},{"d":2},{"d":8}]}, "mark": {"type":"rule","strokeDash":[8,5],"strokeWidth":1.6,"color":"#111"},
      "encoding": {"y": {"field":"d","type":"quantitative","scale":{"domain":[0,25],"reverse":true,"nice":false,"zero":false},
        "axis":{"values":[0,1,2,3,4,5,6,7,8,9,10,11,12,13,14,15,16,17,18,19,20,21,22,23,24,25],"tickCount":40,"format":"d","title":null,"grid":true,"gridColor":{"condition":{"test":"datum.value==2||datum.value==8||datum.value==0","value":"rgba(0,0,0,0)"},"value":"#555"},"gridWidth":1,"labelPadding":7}}}},
     {"data": {"name":"C"}, "mark": {"type":"circle","size":40,"opacity":1},
      "encoding": {"x": {"field":"v","type":"quantitative","scale":{"domain":[0,6],"nice":false,"zero":false},"axis":{"orient":"top","values":[0,1,2,3,4,5,6],"tickCount":40,"format":".2f","title":null,"grid":true,"gridColor":"#111","gridWidth":1.5,"labelPadding":7}},
        "y": {"field":"d","type":"quantitative","axis":{"values":[0,1,2,3,4,5,6,7,8,9,10,11,12,13,14,15,16,17,18,19,20,21,22,23,24,25],"tickCount":40,"format":"d","title":null,"grid":true,"gridColor":{"condition":{"test":"datum.value==2||datum.value==8||datum.value==0","value":"rgba(0,0,0,0)"},"value":"#555"},"gridWidth":1,"labelPadding":7}},
        "color": {"field":"d","type":"quantitative","scale":{"type":"threshold","domain":[0.3,1.5,7.9,12.1,16.2,19.95],"range":["#DD6A2C","#F6A93B","#8FAA57","#92ADDC","#5C7FC6","#3B4673","#2A2D3E"]},"legend":null}}},
     {"data": {"values": [{"t":"C. sand","x":0.2,"y":25.67},{"t":"M. sand","x":1.23,"y":25.67},{"t":"F. sand","x":2.29,"y":25.67},{"t":"V. F. sand","x":3.24,"y":25.67},{"t":"V. C. silt","x":4.28,"y":25.67},{"t":"C. silt","x":5.32,"y":25.67}]},
      "mark": {"type":"text","align":"left","baseline":"middle","fontSize":10.5,"color":"#222"},
      "encoding": {"x":{"field":"x","type":"quantitative"},"y":{"field":"y","type":"quantitative"},"text":{"field":"t"}}},
     {"data": {"values": [{}]}, "mark": {"type":"square","size":729,"color":"#111","opacity":1,"filled":true}, "encoding": {"x":{"datum":-0.37,"type":"quantitative"},"y":{"datum":-1.91,"type":"quantitative"}}},
     {"data": {"values": [{}]}, "mark": {"type":"text","text":"C","color":"white","fontSize":24,"fontWeight":"bold","font":"Open Sans"}, "encoding": {"x":{"datum":-0.37,"type":"quantitative"},"y":{"datum":-1.91,"type":"quantitative"}}},
     {"data": {"values": [{}]}, "mark": {"type":"text","text":"Mean (phi)","color":"#1a1a1a","fontSize":18,"baseline":"middle"}, "encoding": {"x":{"datum":3,"type":"quantitative"},"y":{"datum":-1.91,"type":"quantitative"}}}
    ]},
   {"width": 327, "height": 445,
    "layer": [
     {"data": {"values": [{"d":0.1},{"d":2},{"d":8}]}, "mark": {"type":"rule","strokeDash":[8,5],"strokeWidth":1.6,"color":"#111"},
      "encoding": {"y": {"field":"d","type":"quantitative","scale":{"domain":[0,25],"reverse":true,"nice":false,"zero":false},
        "axis":{"values":[0,1,2,3,4,5,6,7,8,9,10,11,12,13,14,15,16,17,18,19,20,21,22,23,24,25],"tickCount":40,"format":"d","title":"Water depth (m)","titleFontSize":19,"titleFontWeight":"normal","titleColor":"#1a1a1a","titleFont":"Lato","titlePadding":12,"grid":true,"gridColor":{"condition":{"test":"datum.value==2||datum.value==8||datum.value==0","value":"rgba(0,0,0,0)"},"value":"#555"},"gridWidth":1,"labelPadding":7}}}},
     {"data": {"name":"D"}, "mark": {"type":"circle","size":40,"opacity":1},
      "encoding": {"x": {"field":"v","type":"quantitative","scale":{"domain":[0,4.5],"nice":false,"zero":false},"axis":{"orient":"top","values":[0,0.5,1,1.5,2,2.5,3,3.5,4,4.5],"tickCount":40,"format":".2f","title":null,"grid":true,"gridColor":"#111","gridWidth":1.5,"labelPadding":7}},
        "y": {"field":"d","type":"quantitative","axis":{"values":[0,1,2,3,4,5,6,7,8,9,10,11,12,13,14,15,16,17,18,19,20,21,22,23,24,25],"tickCount":40,"format":"d","title":"Water depth (m)","titleFontSize":19,"titleFontWeight":"normal","titleColor":"#1a1a1a","titleFont":"Lato","titlePadding":12,"grid":true,"gridColor":{"condition":{"test":"datum.value==2||datum.value==8||datum.value==0","value":"rgba(0,0,0,0)"},"value":"#555"},"gridWidth":1,"labelPadding":7}},
        "color": {"field":"d","type":"quantitative","scale":{"type":"threshold","domain":[0.3,1.5,7.9,12.1,16.2,19.95],"range":["#DD6A2C","#F6A93B","#8FAA57","#92ADDC","#5C7FC6","#3B4673","#2A2D3E"]},"legend":null}}},
     {"data": {"values": [{"x":0.35,"y":25,"x2":0.35,"y2":25.4},{"x":0.5,"y":25,"x2":0.5,"y2":25.4},{"x":0.71,"y":25,"x2":0.71,"y2":25.4},{"x":1.0,"y":25,"x2":1.0,"y2":25.4},{"x":2.0,"y":25,"x2":2.0,"y2":25.4},{"x":0.274,"y":26.63,"x2":0.449,"y2":25.38},{"x":0.63,"y":25.41,"x2":1.02,"y2":27.02},{"x":0.837,"y":25.34,"x2":1.005,"y2":26.16}]},
      "mark": {"type":"rule","color":"#222","strokeWidth":1},
      "encoding": {"x":{"field":"x","type":"quantitative"},"x2":{"field":"x2"},"y":{"field":"y","type":"quantitative"},"y2":{"field":"y2"}}},
     {"data": {"values": [{"t":"Very well","x":-0.29,"y":25.66},{"t":"sorted","x":-0.29,"y":26.22},{"t":"Well sorted","x":-0.08,"y":27.06},{"t":"Poorly sorted","x":1.14,"y":25.62},{"t":"Moderately sorted","x":1.08,"y":26.44},{"t":"Moderately well sorted","x":1.04,"y":27.15},{"t":"Very poorly sorted","x":2.72,"y":25.62}]},
      "mark": {"type":"text","align":"left","baseline":"middle","fontSize":10.5,"color":"#222"},
      "encoding": {"x":{"field":"x","type":"quantitative"},"y":{"field":"y","type":"quantitative"},"text":{"field":"t"}}},
     {"data": {"values": [{}]}, "mark": {"type":"square","size":729,"color":"#111","opacity":1,"filled":true}, "encoding": {"x":{"datum":-0.33,"type":"quantitative"},"y":{"datum":-2.13,"type":"quantitative"}}},
     {"data": {"values": [{}]}, "mark": {"type":"text","text":"D","color":"white","fontSize":24,"fontWeight":"bold","font":"Open Sans"}, "encoding": {"x":{"datum":-0.33,"type":"quantitative"},"y":{"datum":-2.13,"type":"quantitative"}}},
     {"data": {"values": [{}]}, "mark": {"type":"text","text":"Sorting (phi)","color":"#1a1a1a","fontSize":18,"baseline":"middle"}, "encoding": {"x":{"datum":2.25,"type":"quantitative"},"y":{"datum":-1.7,"type":"quantitative"}}}
    ]},
   {"width": 327, "height": 445,
    "layer": [
     {"data": {"values": [{"d":0.1},{"d":2},{"d":8}]}, "mark": {"type":"rule","strokeDash":[8,5],"strokeWidth":1.6,"color":"#111"},
      "encoding": {"y": {"field":"d","type":"quantitative","scale":{"domain":[0,25],"reverse":true,"nice":false,"zero":false},
        "axis":{"values":[0,1,2,3,4,5,6,7,8,9,10,11,12,13,14,15,16,17,18,19,20,21,22,23,24,25],"tickCount":40,"format":"d","title":null,"grid":true,"gridColor":{"condition":{"test":"datum.value==2||datum.value==8||datum.value==0","value":"rgba(0,0,0,0)"},"value":"#555"},"gridWidth":1,"labelPadding":7}}}},
     {"data": {"name":"E"}, "mark": {"type":"circle","size":40,"opacity":1},
      "encoding": {"x": {"field":"v","type":"quantitative","scale":{"domain":[-1,9],"nice":false,"zero":false},"axis":{"orient":"top","values":[-1,0,1,2,3,4,5,6,7,8,9],"tickCount":40,"format":".2f","labelExpr":"replace(format(datum.value, '.2f'), '\u2212', '-')","title":null,"grid":true,"gridColor":"#111","gridWidth":1.5,"labelPadding":7}},
        "y": {"field":"d","type":"quantitative","axis":{"values":[0,1,2,3,4,5,6,7,8,9,10,11,12,13,14,15,16,17,18,19,20,21,22,23,24,25],"tickCount":40,"format":"d","title":null,"grid":true,"gridColor":{"condition":{"test":"datum.value==2||datum.value==8||datum.value==0","value":"rgba(0,0,0,0)"},"value":"#555"},"gridWidth":1,"labelPadding":7}},
        "color": {"field":"d","type":"quantitative","scale":{"type":"threshold","domain":[0.3,1.5,7.9,12.1,16.2,19.95],"range":["#DD6A2C","#F6A93B","#8FAA57","#92ADDC","#5C7FC6","#3B4673","#2A2D3E"]},"legend":null}}},
     {"data": {"values": [{"x":-0.37,"y":25,"x2":-0.37,"y2":25.4},{"x":0.48,"y":25,"x2":0.48,"y2":25.4},{"x":1.42,"y":25,"x2":1.42,"y2":25.4},{"x":-0.795,"y":26.12,"x2":-0.52,"y2":25.41},{"x":0.223,"y":25.47,"x2":1.01,"y2":26.69},{"x":1.08,"y":25.43,"x2":1.42,"y2":26.03}]},
      "mark": {"type":"rule","color":"#222","strokeWidth":1},
      "encoding": {"x":{"field":"x","type":"quantitative"},"x2":{"field":"x2"},"y":{"field":"y","type":"quantitative"},"y2":{"field":"y2"}}},
     {"data": {"values": [{"t":"Coarse skewed","x":-1.64,"y":26.4},{"t":"Fine skewed","x":1.63,"y":26.12},{"t":"Symmetrical","x":1.17,"y":26.78},{"t":"Very fine skewed","x":4.02,"y":25.62}]},
      "mark": {"type":"text","align":"left","baseline":"middle","fontSize":10.5,"color":"#222"},
      "encoding": {"x":{"field":"x","type":"quantitative"},"y":{"field":"y","type":"quantitative"},"text":{"field":"t"}}},
     {"data": {"values": [{}]}, "mark": {"type":"square","size":729,"color":"#111","opacity":1,"filled":true}, "encoding": {"x":{"datum":-1.46,"type":"quantitative"},"y":{"datum":-2.13,"type":"quantitative"}}},
     {"data": {"values": [{}]}, "mark": {"type":"text","text":"E","color":"white","fontSize":24,"fontWeight":"bold","font":"Open Sans"}, "encoding": {"x":{"datum":-1.46,"type":"quantitative"},"y":{"datum":-2.13,"type":"quantitative"}}},
     {"data": {"values": [{}]}, "mark": {"type":"text","text":"Skewness (phi)","color":"#1a1a1a","fontSize":18,"baseline":"middle"}, "encoding": {"x":{"datum":4,"type":"quantitative"},"y":{"datum":-1.7,"type":"quantitative"}}}
    ]},
   {"width": 327, "height": 445,
    "layer": [
     {"data": {"values": [{"d":0.1},{"d":2},{"d":8}]}, "mark": {"type":"rule","strokeDash":[8,5],"strokeWidth":1.6,"color":"#111"},
      "encoding": {"y": {"field":"d","type":"quantitative","scale":{"domain":[0,25],"reverse":true,"nice":false,"zero":false},
        "axis":{"values":[0,1,2,3,4,5,6,7,8,9,10,11,12,13,14,15,16,17,18,19,20,21,22,23,24,25],"tickCount":40,"format":"d","title":null,"grid":true,"gridColor":{"condition":{"test":"datum.value==2||datum.value==8||datum.value==0","value":"rgba(0,0,0,0)"},"value":"#555"},"gridWidth":1,"labelPadding":7}}}},
     {"data": {"name":"F"}, "mark": {"type":"circle","size":40,"opacity":1},
      "encoding": {"x": {"field":"v","type":"quantitative","scale":{"type":"log","base":2,"domain":[1,128],"nice":false},"axis":{"orient":"top","values":[1,2,4,8,16,32,64,128],"tickCount":40,"format":".2f","title":null,"grid":true,"gridColor":"#111","gridWidth":1.5,"labelPadding":7}},
        "y": {"field":"d","type":"quantitative","axis":{"values":[0,1,2,3,4,5,6,7,8,9,10,11,12,13,14,15,16,17,18,19,20,21,22,23,24,25],"tickCount":40,"format":"d","title":null,"grid":true,"gridColor":{"condition":{"test":"datum.value==2||datum.value==8||datum.value==0","value":"rgba(0,0,0,0)"},"value":"#555"},"gridWidth":1,"labelPadding":7}},
        "color": {"field":"d","type":"quantitative","scale":{"type":"threshold","domain":[0.3,1.5,7.9,12.1,16.2,19.95],"range":["#DD6A2C","#F6A93B","#8FAA57","#92ADDC","#5C7FC6","#3B4673","#2A2D3E"]},"legend":null}}},
     {"data": {"values": [{"x":1.7,"y":25,"x2":1.7,"y2":25.4},{"x":2.55,"y":25,"x2":2.55,"y2":25.4},{"x":3.7,"y":25,"x2":3.7,"y2":25.4},{"x":7.4,"y":25,"x2":7.4,"y2":25.4},{"x":1.9,"y":26.08,"x2":2.13,"y2":25.52},{"x":2.89,"y":25.52,"x2":3.48,"y2":26.31}]},
      "mark": {"type":"rule","color":"#222","strokeWidth":1},
      "encoding": {"x":{"field":"x","type":"quantitative"},"x2":{"field":"x2"},"y":{"field":"y","type":"quantitative"},"y2":{"field":"y2"}}},
     {"data": {"values": [{"t":"Very platykurtic","x":0.578,"y":25.84},{"t":"Platykurtic","x":1.195,"y":26.5},{"t":"Leptokurtic","x":3.79,"y":25.73},{"t":"Mesokurtic","x":3.57,"y":26.6},{"t":"Very leptokurtic","x":18.8,"y":25.62}]},
      "mark": {"type":"text","align":"left","baseline":"middle","fontSize":10.5,"color":"#222"},
      "encoding": {"x":{"field":"x","type":"quantitative"},"y":{"field":"y","type":"quantitative"},"text":{"field":"t"}}},
     {"data": {"values": [{}]}, "mark": {"type":"square","size":729,"color":"#111","opacity":1,"filled":true}, "encoding": {"x":{"datum":0.74,"type":"quantitative"},"y":{"datum":-2.13,"type":"quantitative"}}},
     {"data": {"values": [{}]}, "mark": {"type":"text","text":"F","color":"white","fontSize":24,"fontWeight":"bold","font":"Open Sans"}, "encoding": {"x":{"datum":0.74,"type":"quantitative"},"y":{"datum":-2.13,"type":"quantitative"}}},
     {"data": {"values": [{}]}, "mark": {"type":"text","text":"Kurtosis (phi)","color":"#1a1a1a","fontSize":18,"baseline":"middle"}, "encoding": {"x":{"datum":11.31,"type":"quantitative"},"y":{"datum":-1.7,"type":"quantitative"}}}
    ]}
 ]
}
